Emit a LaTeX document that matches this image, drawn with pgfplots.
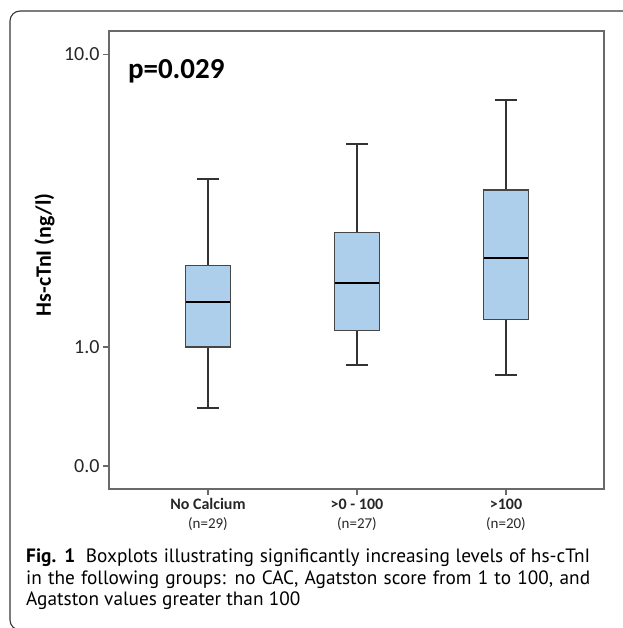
\documentclass[border=0pt]{standalone}
\usepackage{fontspec}
\setmainfont{Carlito}
\newfontfamily\capfont{PT Sans}
\usepackage{pgfplots}
\pgfplotsset{compat=1.18}
\usepgfplotslibrary{statistics}
\definecolor{boxfill}{RGB}{174,207,235}
\definecolor{boxedge}{RGB}{70,70,70}
\definecolor{axisgray}{RGB}{105,105,105}
\definecolor{framecol}{RGB}{55,55,55}

\begin{document}
\begin{tikzpicture}
\useasboundingbox (0,0) rectangle (622pt,628pt);
% outer figure frame (open to the right and bottom)
\draw[framecol, line width=1.1pt, rounded corners=10pt]
  (640pt,617pt) -- (10pt,617pt) -- (10pt,-2pt) -- (640pt,-2pt);

\begin{axis}[
  at={(109pt,139pt)}, anchor=south west,
  scale only axis, width=495pt, height=458pt,
  xmin=0.336, xmax=3.658,
  ymin=-0.1256, ymax=11.6,
  y coord trafo/.code={\pgfmathparse{log10(#1+1)}},
  y coord inv trafo/.code={\pgfmathparse{10^(#1)-1}},
  axis line style={axisgray, line width=1.4pt},
  tick style={axisgray, line width=1.2pt},
  tick align=outside, major tick length=6pt,
  xtick pos=bottom, ytick pos=left,
  ytick={0,1,10}, yticklabels={0.0,1.0,10.0},
  yticklabel style={font=\fontsize{20}{24}\selectfont, text=black!85},
  xtick={1,2,3},
  xticklabels={
    {\textbf{No Calcium}\\{\fontsize{15}{19}\selectfont(n=29)}},
    {\textbf{>0 - 100}\\{\fontsize{15}{19}\selectfont(n=27)}},
    {\textbf{>100}\\{\fontsize{15}{19}\selectfont(n=20)}}},
  xticklabel style={align=center, font=\fontsize{16}{19}\selectfont, text=black!85},
  ylabel={\textbf{Hs-cTnI (ng/l)}},
  ylabel style={font=\fontsize{22}{26}\selectfont, at={(axis description cs:-0.13,0.511)}, anchor=center},
  boxplot/draw direction=y,
  boxplot/every box/.style={draw=boxedge, fill=boxfill, line width=1.2pt},
  boxplot/every whisker/.style={draw=black!80, line width=1.5pt},
  boxplot/every median/.style={draw=black, line width=2.6pt},
  clip=false,
]
\addplot[boxplot prepared={draw position=1,
  lower whisker=0.40, lower quartile=1.00, median=1.60,
  upper quartile=2.21, upper whisker=4.32,
  box extend=0.30, whisker extend=0.15}] coordinates {};
\addplot[boxplot prepared={draw position=2,
  lower whisker=0.80, lower quartile=1.20, median=1.90,
  upper quartile=2.89, upper whisker=5.53,
  box extend=0.30, whisker extend=0.15}] coordinates {};
\addplot[boxplot prepared={draw position=3,
  lower whisker=0.70, lower quartile=1.35, median=2.36,
  upper quartile=3.99, upper whisker=7.43,
  box extend=0.30, whisker extend=0.15}] coordinates {};

\node[anchor=base west, font=\fontsize{29}{34}\selectfont\bfseries, inner sep=0pt]
  at (axis description cs:0.038,0.897) {p=0.029};
\end{axis}

% caption (justified lines)
\begin{scope}[every node/.style={anchor=base west, inner sep=0pt,
    font=\capfont\fontsize{19.3}{22}\selectfont}]
\node at (26pt,65pt) {\makebox[564pt][s]{\textbf{Fig. 1}\hspace{0.55em}Boxplots illustrating significantly increasing levels of hs-cTnI}};
\node at (26pt,43.5pt) {\makebox[564pt][s]{in the following groups: no CAC, Agatston score from 1 to 100, and}};
\node at (26pt,22pt) {Agatston values greater than 100};
\end{scope}
\end{tikzpicture}
\end{document}
